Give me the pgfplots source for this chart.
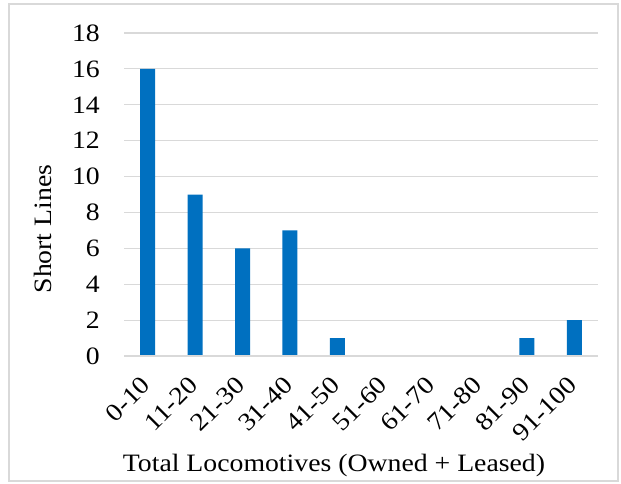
\documentclass[border=0pt]{standalone}
\usepackage{pgfplots}
\pgfplotsset{compat=1.18}
\usepackage{fontspec}
\setmainfont{Liberation Serif}[FakeStretch=1.11]
\definecolor{barblue}{HTML}{0070C0}
\definecolor{gridgray}{HTML}{D9D9D9}
\begin{document}
\begin{tikzpicture}[x=1pt,y=1pt]
\useasboundingbox (0,0) rectangle (621,483);
\draw[gridgray, line width=1.2pt] (9,2) rectangle (618,479);
\begin{axis}[
  at={(124pt,127pt)}, anchor=south west,
  scale only axis, width=474pt, height=323pt,
  ybar, bar width=15pt,
  xmin=-0.5, xmax=9.5, ymin=0, ymax=18,
  xtick={0,...,9},
  xticklabels={0-10,11-20,21-30,31-40,41-50,51-60,61-70,71-80,81-90,91-100},
  ytick={0,2,...,18},
  /pgf/number format/assume math mode=true,
  tick style={draw=none},
  ymajorgrids, grid style={gridgray, line width=1.2pt},
  axis line style={draw=none},
  font=\fontsize{25}{30}\selectfont,
  yticklabel style={inner sep=0pt, anchor=east, xshift=-24pt},
  xticklabel style={rotate=45, anchor=north east, inner sep=0pt, xshift=-16pt, yshift=-5pt},
  ylabel={Short Lines},
  ylabel style={at={(axis description cs:-0.171,0.393)}, anchor=center},
  xlabel={Total Locomotives (Owned + Leased)},
  xlabel style={at={(axis description cs:0.443,-0.359)}, anchor=base},
  clip=false,
]
\addplot[fill=barblue, draw=none] coordinates {(0,16) (1,9) (2,6) (3,7) (4,1) (5,0) (6,0) (7,0) (8,1) (9,2)};
\draw[gridgray, line width=1.2pt] (axis cs:-0.5,0) -- (axis cs:9.5,0);
\end{axis}
\end{tikzpicture}
\end{document}
